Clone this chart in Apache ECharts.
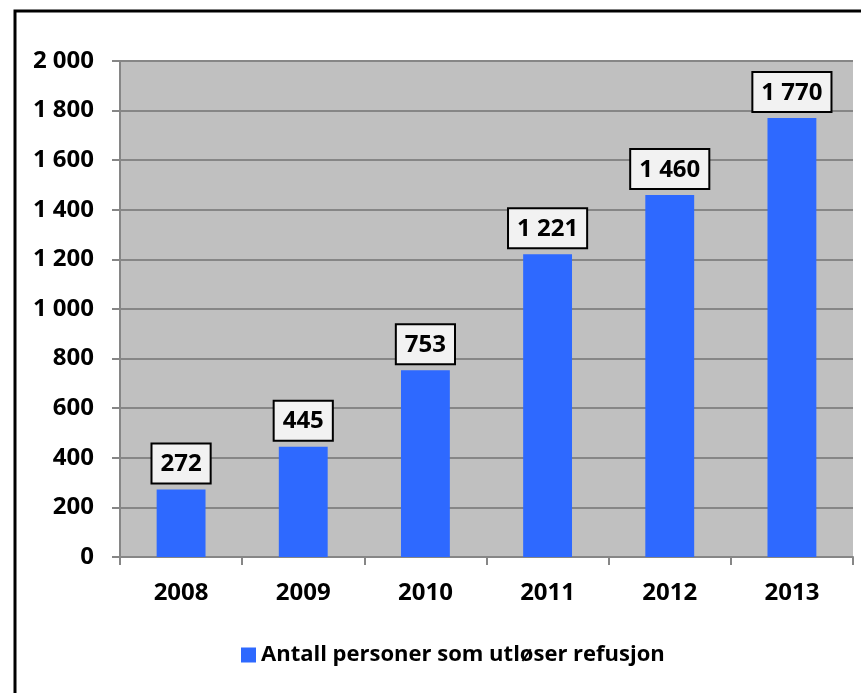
<!DOCTYPE html>
<html>
<head>
<meta charset="utf-8">
<script src="https://cdn.jsdelivr.net/npm/echarts@6/dist/echarts.min.js"></script>
<style>
  html, body { margin: 0; padding: 0; background: #fff; }
  #chart { width: 861px; height: 693px; }
</style>
</head>
<body>
<div id="chart"></div>
<script>
let years = ['2008', '2009', '2010', '2011', '2012', '2013'];
let personer = [272, 445, 753, 1221, 1460, 1770];
let seriesName = 'Antall personer som utløser refusjon';

// tall med mellomrom som tusenskille
function fmt(v) {
    return String(v).replace(/\B(?=(\d{3})+(?!\d))/g, ' ');
}

let font = '"Open Sans", "Noto Sans", sans-serif';
let chart = echarts.init(document.getElementById('chart'));

chart.setOption({
    animation: false,
    textStyle: { fontFamily: font },
    graphic: [
        {   // ramme rundt hele figuren
            type: 'rect',
            shape: { x: 15, y: 11, width: 900, height: 720 },
            style: { fill: 'none', stroke: '#000', lineWidth: 3 }
        }
    ],
    grid: { left: 120, right: 8, top: 61, bottom: 136, show: true, backgroundColor: '#c0c0c0', borderWidth: 0 },
    legend: {
        left: 236,
        top: 639,
        itemWidth: 15,
        itemHeight: 15,
        icon: 'rect',
        textStyle: { fontSize: 22, fontWeight: 'bold', color: '#000', fontFamily: font },
        data: [seriesName]
    },
    xAxis: {
        type: 'category',
        data: years,
        axisLine: { lineStyle: { color: '#868686', width: 2 } },
        axisTick: { show: true, length: 8, lineStyle: { color: '#868686', width: 2 } },
        axisLabel: { margin: 24, fontSize: 24, fontWeight: 'bold', color: '#000', fontFamily: font }
    },
    yAxis: {
        type: 'value',
        min: 0,
        max: 2000,
        interval: 200,
        axisLine: { show: true, lineStyle: { color: '#868686', width: 2 } },
        axisTick: { show: true, length: 8, lineStyle: { color: '#868686', width: 2 } },
        splitLine: { lineStyle: { color: '#868686', width: 2 } },
        axisLabel: {
            margin: 26, fontSize: 24, fontWeight: 'bold', color: '#000', fontFamily: font,
            formatter: fmt
        }
    },
    series: [
        {
            name: seriesName,
            type: 'bar',
            data: personer,
            barWidth: '40%',
            itemStyle: { color: '#2e69ff' },
            label: {
                show: true,
                position: 'top',
                distance: 7,
                formatter: p => fmt(p.value),
                fontSize: 24,
                fontWeight: 'bold',
                color: '#000',
                fontFamily: font,
                backgroundColor: '#f2f2f2',
                borderColor: '#000',
                borderWidth: 2,
                padding: [8, 8, 6, 8]
            }
        }
    ]
});
</script>
</body>
</html>
